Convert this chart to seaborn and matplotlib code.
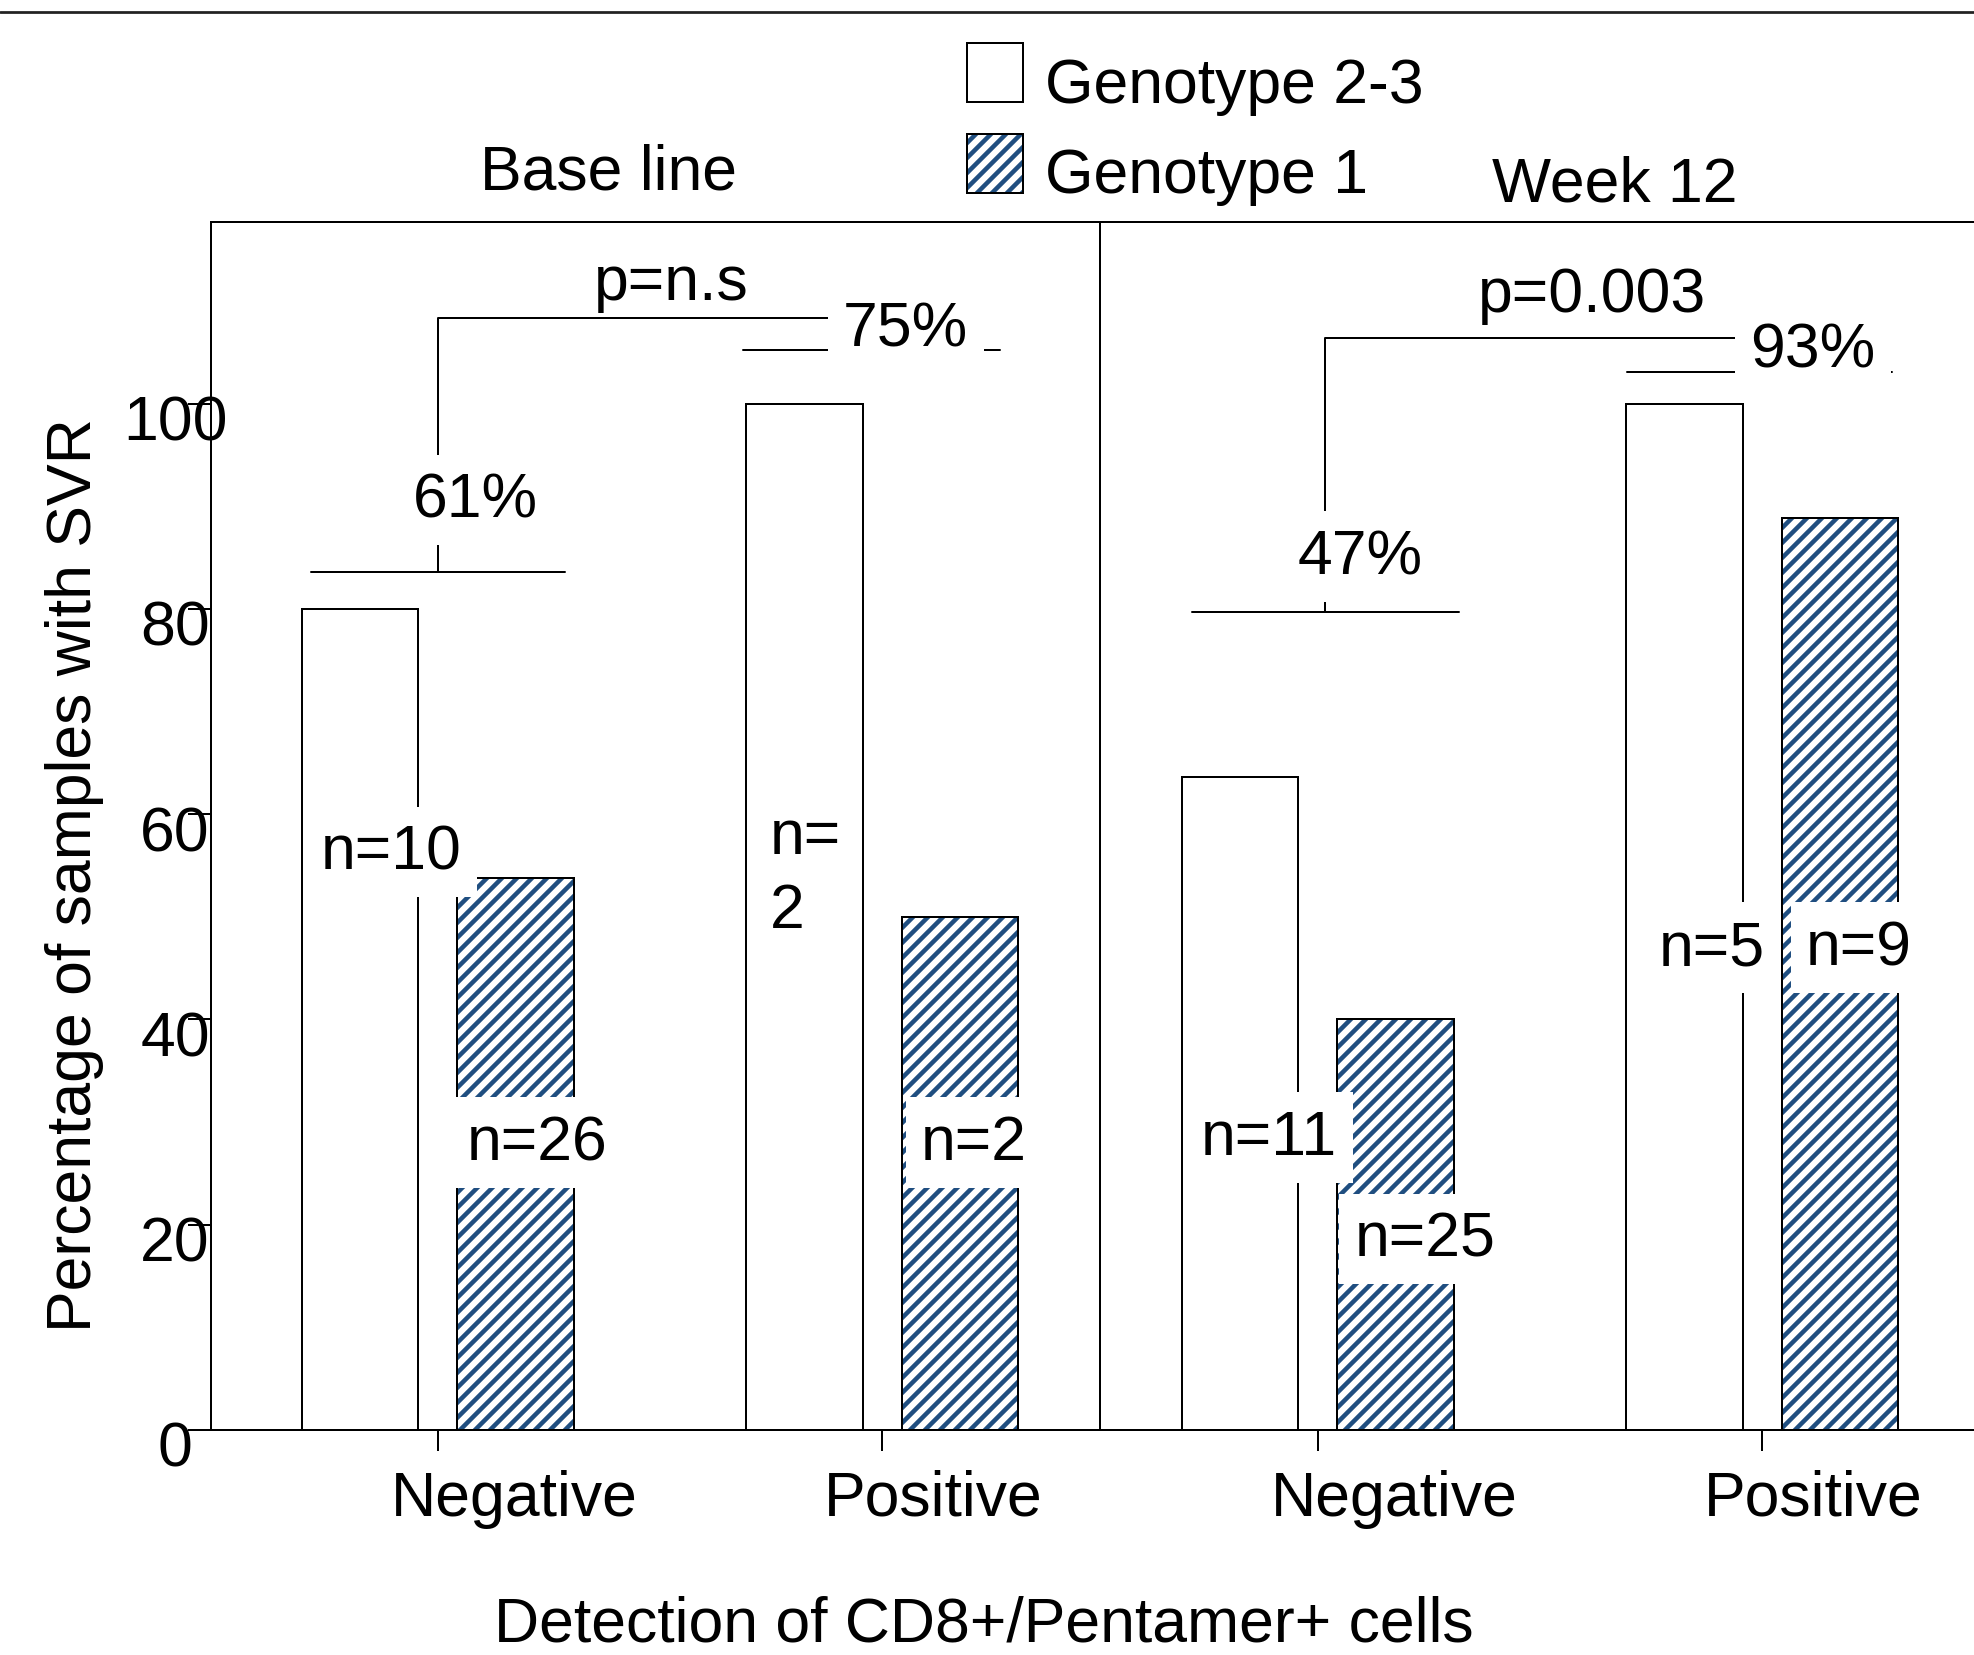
import matplotlib
matplotlib.use("Agg")
import matplotlib.pyplot as plt
import pandas as pd
import seaborn as sns
from matplotlib.patches import Patch, Rectangle
from matplotlib.lines import Line2D
from matplotlib.transforms import ScaledTranslation

sns.set_theme(style="white")
plt.rcParams["font.family"] = ["Liberation Sans", "DejaVu Sans"]
plt.rcParams["text.color"] = "black"
plt.rcParams["hatch.linewidth"] = 3.6

# ---- data (percent of samples with SVR) ----
detection = ["Negative", "Positive"]
genotypes = ["Genotype 2-3", "Genotype 1"]
baseline_g23 = [80.0, 100.0]
baseline_g1 = [53.8, 50.0]
week12_g23 = [63.6, 100.0]
week12_g1 = [40.0, 88.9]

baseline_n = ["n=10", "n=26", "n=\n2", "n=2"]
week12_n = ["n=11", "n=25", "n=5", "n=9"]
baseline_pct = ["61%", "75%"]
week12_pct = ["47%", "93%"]
pvalues = ["p=n.s", "p=0.003"]
titles = ["Base line", "Week 12"]

# ---- style ----
DPI = 90
FS = 50
LW = 1.6
HATCH = "#1f4e80"
WHITE_BOX = dict(boxstyle="square,pad=0.25", fc="white", ec="none")


def draw_panel(ax, g23, g1, xlim):
    df = pd.DataFrame({
        "detection": detection * 2,
        "genotype": [genotypes[0]] * 2 + [genotypes[1]] * 2,
        "pct": list(g23) + list(g1),
    })
    sns.barplot(data=df, x="detection", y="pct", hue="genotype", hue_order=genotypes,
                palette=["white", "white"], saturation=1, edgecolor="black",
                linewidth=LW, width=0.7, gap=0.25, errorbar=None, legend=False, ax=ax)
    # hatched bars: blue hatch, black outline drawn on top
    for bar in ax.containers[1]:
        bar.set_hatch("//")
        bar.set_edgecolor(HATCH)
        bar.set_linewidth(0)
        ax.add_patch(Rectangle(bar.get_xy(), bar.get_width(), bar.get_height(),
                               fill=False, edgecolor="black", linewidth=LW, zorder=bar.get_zorder()))
    ax.set_xlim(*xlim)
    ax.set_xticks([0, 1], ["", ""])
    ax.set_xticks([0.173, 1.115], detection, minor=True)
    ax.tick_params(axis="x", which="major", bottom=True, direction="out", length=16.8, width=LW, color="black")
    ax.tick_params(axis="x", which="minor", bottom=True, length=0, pad=31, labelsize=FS, labelcolor="black")
    ax.set_xlabel("")
    ax.set_ylabel("")
    for s in ax.spines.values():
        s.set_color("black")
        s.set_linewidth(LW)


def bracket(ax, x_neg, neg_span, y_neg, pos_span, y_pos, x_end, y_top):
    kw = dict(color="black", lw=LW, clip_on=False, zorder=2)
    ax.plot(neg_span, [y_neg, y_neg], **kw)
    ax.plot(pos_span, [y_pos, y_pos], **kw)
    ax.plot([x_neg, x_neg, x_end], [y_neg, y_top, y_top], **kw)


fig = plt.figure(figsize=(1975 / DPI, 1656 / DPI), dpi=DPI)
ax1 = fig.add_axes([0.10684, 0.13587, 0.45013, 0.72947])
ax2 = fig.add_axes([0.55696, 0.13587, 0.45013, 0.72947], sharey=ax1)

draw_panel(ax1, baseline_g23, baseline_g1, (-0.51, 1.49))
draw_panel(ax2, week12_g23, week12_g1, (-0.49, 1.51))

ax1.set_ylim(0, 117.7)
ax1.set_yticks([0, 20, 40, 60, 80, 100])
ax1.tick_params(axis="y", left=True, direction="out", length=18.4, width=LW, color="black",
                pad=10.4, labelsize=FS, labelcolor="black")
ax2.tick_params(axis="y", left=False, labelleft=False)
ax1.spines["right"].set_visible(False)

# ---- annotations: group lines, percentages, p-values ----
bracket(ax1, 0.0, [-0.284, 0.286], 83.6, [0.687, 1.265], 105.2, 0.91, 108.3)
ax1.text(0.084, 89.0, baseline_pct[0], ha="center", va="baseline", fontsize=FS, bbox=WHITE_BOX)
ax1.text(1.053, 105.7, baseline_pct[1], ha="center", va="baseline", fontsize=FS, bbox=WHITE_BOX)
ax1.text(0.525, 110.2, pvalues[0], ha="center", va="baseline", fontsize=FS)

bracket(ax2, 0.016, [-0.283, 0.318], 79.7, [0.696, 1.292], 103.1, 0.966, 106.4)
ax2.text(0.095, 83.5, week12_pct[0], ha="center", va="baseline", fontsize=FS, bbox=WHITE_BOX)
ax2.text(1.114, 103.6, week12_pct[1], ha="center", va="baseline", fontsize=FS, bbox=WHITE_BOX)
ax2.text(0.617, 109.0, pvalues[1], ha="center", va="baseline", fontsize=FS)

# ---- sample sizes inside bars ----
n_pos1 = [(-0.105, 54.7, "center"), (0.223, 26.4, "center"), (0.748, 49.0, "left"), (1.207, 26.4, "center")]
for (x, y, ha), lab in zip(n_pos1, baseline_n):
    ax1.text(x, y, lab, ha=ha, va="baseline", fontsize=FS, linespacing=1.32,
             bbox=WHITE_BOX if ha == "center" else None)
n_pos2 = [(-0.110, 26.9), (0.241, 17.0), (0.887, 45.4), (1.218, 45.4)]
for (x, y), lab in zip(n_pos2, week12_n):
    ax2.text(x, y, lab, ha="center", va="baseline", fontsize=FS, bbox=WHITE_BOX)

# ---- panel titles, axis labels, legend ----
fig.text(608 / 1975, 1 - 190 / 1656, titles[0], ha="center", va="baseline", fontsize=FS)
fig.text(1615 / 1975, 1 - 202 / 1656, titles[1], ha="center", va="baseline", fontsize=FS)
fig.text(75 / 1975, 1 - 875 / 1656, "Percentage of samples with SVR", rotation=90,
         ha="center", va="center", fontsize=FS)
fig.text(984 / 1975, 14 / 1656, "Detection of CD8+/Pentamer+ cells", ha="center", va="baseline", fontsize=FS)

h_white = Patch(facecolor="white", edgecolor="black", linewidth=LW)
h_hatch = (Patch(facecolor="white", edgecolor=HATCH, hatch="//", linewidth=0),
           Patch(fill=False, edgecolor="black", linewidth=LW))
leg = fig.legend([h_white, h_hatch], genotypes, loc="upper left", bbox_to_anchor=(967 / 1975, 1 - 44 / 1656),
                 frameon=False, borderpad=0, borderaxespad=0, fontsize=FS, handlelength=0.9,
                 handleheight=1.075, handletextpad=0.35, labelspacing=0.43)
for t in leg.get_texts():
    t.set_color("black")
    t.set_transform(t.get_transform() + ScaledTranslation(0, -8 / DPI, fig.dpi_scale_trans))

# figure top rule
fig.add_artist(Line2D([0, 1], [1 - 13 / 1656] * 2, transform=fig.transFigure, color="#222222", lw=2.2))

# y tick labels: centred on a column and sitting a bit below their ticks
for lab in ax1.get_yticklabels():
    lab.set_horizontalalignment("center")
    lab.set_transform(lab.get_transform() + ScaledTranslation(0, -13 / DPI, fig.dpi_scale_trans))

fig.savefig("out.png", dpi=DPI)
